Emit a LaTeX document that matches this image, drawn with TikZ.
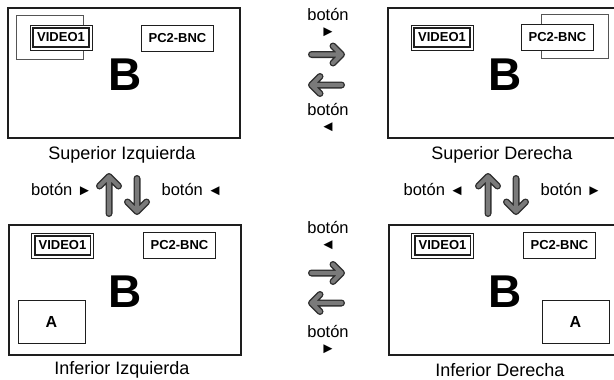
\documentclass[tikz,border=0pt]{standalone}
\usepackage{fontspec}
\setmainfont{Liberation Sans}
\usetikzlibrary{positioning}
\definecolor{framegray}{HTML}{1E1E1E}
\definecolor{pipgray}{HTML}{555555}
\definecolor{arrowfill}{HTML}{7A7A7A}
\definecolor{arrowline}{HTML}{2E2E2E}

% small pointer glyphs next to "botón"
\newcommand{\rtri}{{\fontsize{15}{15}\selectfont ►}}
\newcommand{\ltri}{{\fontsize{15}{15}\selectfont ◄}}
% fat grey arrow: tail, tip, first barb, second barb
\newcommand{\fatarrow}[4]{%
  \foreach \lw/\col in {7pt/arrowline,4.2pt/arrowfill}
    \draw[line width=\lw, draw=\col, line cap=round, line join=round] (#1) -- (#2) ++(#3) -- (#2) -- ++(#4);
}

\begin{document}
\begin{tikzpicture}[x=1pt, y=-1pt,
    screen/.style={draw=framegray, line width=1.5pt, fill=white, minimum width=232pt, minimum height=130pt, inner sep=0pt, anchor=north west},
    pip/.style={draw=pipgray, line width=0.9pt, minimum width=67pt, minimum height=44pt, inner sep=0pt},
    pipbox/.style={draw=framegray, line width=1pt, fill=white, minimum width=67pt, minimum height=43pt, inner sep=0pt, font=\fontsize{16}{16}\selectfont\bfseries},
    srcbox/.style={draw=framegray, line width=0.8pt, fill=white, minimum width=62pt, minimum height=25pt, inner sep=0pt, font=\fontsize{13}{13}\selectfont\bfseries},
    pcbox/.style={draw=framegray, line width=1pt, fill=white, minimum width=72pt, minimum height=26pt, inner sep=0pt, font=\fontsize{13}{13}\selectfont\bfseries},
    bigletter/.style={font=\fontsize{46}{46}\selectfont\bfseries},
    caption/.style={font=\fontsize{18}{18}\selectfont, inner sep=1pt},
    btn/.style={font=\fontsize{16.5}{16.5}\selectfont, inner sep=0pt},
    btnstack/.style={font=\fontsize{16.5}{16.5}\selectfont, inner sep=0pt, align=center, anchor=north}
]
    \clip (0,0) rectangle (614,380);

    % Superior Izquierda
    \node[screen] (s_tl) at (7,7) {};
    \node[pip] (pip_tl) at (49.5,37) {};
    \node[srcbox] (vid_tl) at (61,37.5) {VIDEO1};
    \draw[framegray, line width=1.8pt] ([xshift=3.5pt,yshift=-3.5pt]vid_tl.north west) rectangle ([xshift=-3.5pt,yshift=3.5pt]vid_tl.south east);
    \node[pcbox] (pc_tl) at (177.5,38) {PC2-BNC};
    \node[bigletter] (b_tl) at (125,75) {B};
    \node[caption] (cap_tl) at (122,155) {Superior Izquierda};

    % Superior Derecha
    \node[screen] (s_tr) at (387,7) {};
    \node[pip] (pip_tr) at (575,36.5) {};
    \node[srcbox] (vid_tr) at (442,37.5) {VIDEO1};
    \draw[framegray, line width=1.8pt] ([xshift=3.5pt,yshift=-3.5pt]vid_tr.north west) rectangle ([xshift=-3.5pt,yshift=3.5pt]vid_tr.south east);
    \node[pcbox] (pc_tr) at (557.5,37) {PC2-BNC};
    \node[bigletter] (b_tr) at (505,75) {B};
    \node[caption] (cap_tr) at (502,155) {Superior Derecha};

    % Inferior Izquierda
    \node[screen] (s_bl) at (8,224) {};
    \node[srcbox] (vid_bl) at (62.5,245.5) {VIDEO1};
    \draw[framegray, line width=1.8pt] ([xshift=3.5pt,yshift=-3.5pt]vid_bl.north west) rectangle ([xshift=-3.5pt,yshift=3.5pt]vid_bl.south east);
    \node[pcbox] (pc_bl) at (179.5,245.5) {PC2-BNC};
    \node[pipbox] (a_bl) at (51.5,321.5) {A};
    \node[bigletter] (b_bl) at (125,292) {B};
    \node[caption] (cap_bl) at (122,370) {Inferior Izquierda};

    % Inferior Derecha
    \node[screen] (s_br) at (388,224) {};
    \node[srcbox] (vid_br) at (442.5,245.5) {VIDEO1};
    \draw[framegray, line width=1.8pt] ([xshift=3.5pt,yshift=-3.5pt]vid_br.north west) rectangle ([xshift=-3.5pt,yshift=3.5pt]vid_br.south east);
    \node[pcbox] (pc_br) at (559.5,245.5) {PC2-BNC};
    \node[pipbox] (a_br) at (575.5,321.5) {A};
    \node[bigletter] (b_br) at (505,292) {B};
    \node[caption] (cap_br) at (500,370) {Inferior Derecha};

    % top swap arrows
    \node[btnstack] (bt_t1) at (328,8) {botón\\\rtri};
    \coordinate (ra_t) at (311.5,54.5);
    \coordinate (rb_t) at (341.5,54.5);
    \fatarrow{ra_t}{rb_t}{-8.5,-8.5}{-8.5,8.5}
    \coordinate (la_t) at (341.5,85);
    \coordinate (lb_t) at (311.5,85);
    \fatarrow{la_t}{lb_t}{8.5,-8.5}{8.5,8.5}
    \node[btnstack] (bt_t2) at (328,103) {botón\\\ltri};

    % bottom swap arrows
    \node[btnstack] (bt_b1) at (328,221) {botón\\\ltri};
    \coordinate (ra_b) at (311.5,273);
    \coordinate (rb_b) at (341.5,273);
    \fatarrow{ra_b}{rb_b}{-8.5,-8.5}{-8.5,8.5}
    \coordinate (la_b) at (341.5,303);
    \coordinate (lb_b) at (311.5,303);
    \fatarrow{la_b}{lb_b}{8.5,-8.5}{8.5,8.5}
    \node[btnstack] (bt_b2) at (328,325) {botón\\\rtri};

    % left up/down arrows
    \node[btn] (bt_l1) at (61.5,190) {botón \rtri};
    \coordinate (ua_l) at (109,213.5);
    \coordinate (ub_l) at (109,176.5);
    \fatarrow{ua_l}{ub_l}{-9.5,9.5}{9.5,9.5}
    \coordinate (da_l) at (137,178.5);
    \coordinate (db_l) at (137,211.5);
    \fatarrow{da_l}{db_l}{-9.5,-9.5}{9.5,-9.5}
    \node[btn] (bt_l2) at (192,190) {botón \ltri};

    % right up/down arrows
    \node[btn] (bt_r1) at (434,190) {botón \ltri};
    \coordinate (ua_r) at (488,213.5);
    \coordinate (ub_r) at (488,176.5);
    \fatarrow{ua_r}{ub_r}{-9.5,9.5}{9.5,9.5}
    \coordinate (da_r) at (516,178.5);
    \coordinate (db_r) at (516,211.5);
    \fatarrow{da_r}{db_r}{-9.5,-9.5}{9.5,-9.5}
    \node[btn] (bt_r2) at (571,190) {botón \rtri};

\end{tikzpicture}
\end{document}
